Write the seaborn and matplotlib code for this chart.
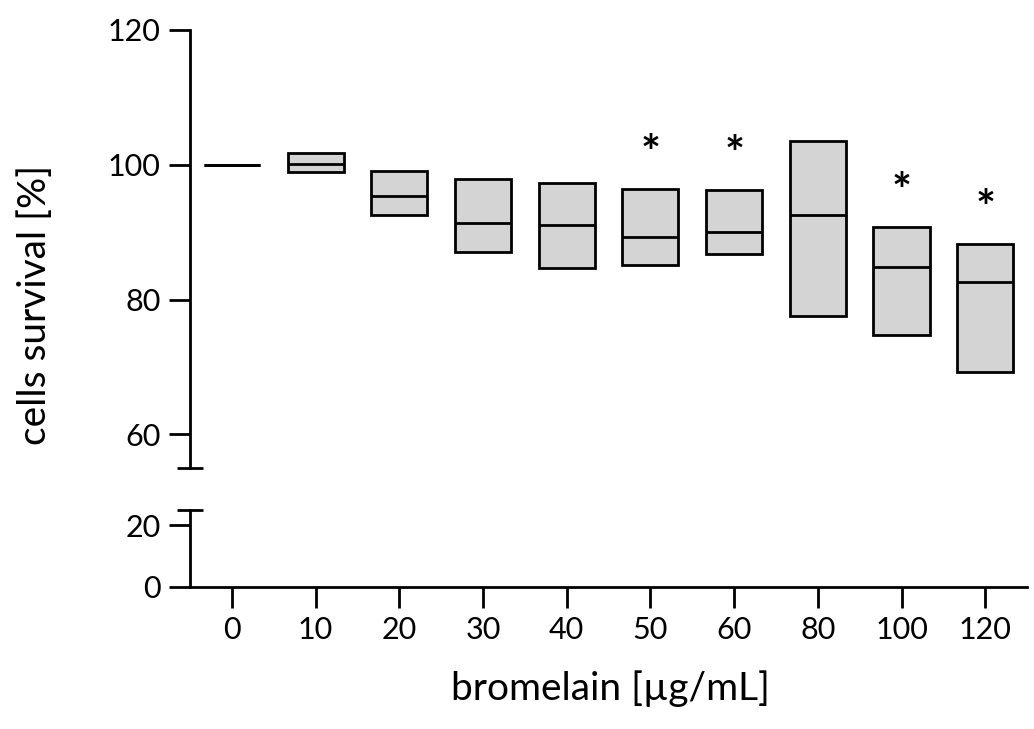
import numpy as np
import pandas as pd

import matplotlib
matplotlib.use("Agg")
import matplotlib.pyplot as plt
import seaborn as sns


# bromelain concentrations [ug/mL]
concentrations = ["0", "10", "20", "30", "40", "50", "60", "80", "100", "120"]
# cell survival [%]
survival_min = [100.0, 98.9, 92.5, 87.0, 84.7, 85.1, 86.7, 77.5, 74.7, 69.2]
survival_median = [100.0, 100.1, 95.4, 91.3, 91.0, 89.3, 90.0, 92.5, 84.8, 82.6]
survival_max = [100.0, 101.8, 99.1, 97.9, 97.3, 96.4, 96.3, 103.5, 90.8, 88.3]
significant = [False, False, False, False, False, True, True, False, True, True]


def build_frame():
    # five points per group so that Q1 = min, median = median, Q3 = max
    rows = []
    for c, lo, med, hi in zip(concentrations, survival_min, survival_median, survival_max):
        for v in (lo, lo, med, hi, hi):
            rows.append({"conc": c, "survival": v})
    return pd.DataFrame(rows)


def main():
    sns.set_style("white")
    plt.rcParams["font.family"] = ["Lato", "DejaVu Sans"]
    plt.rcParams["text.color"] = "black"
    plt.rcParams["xtick.color"] = "black"
    plt.rcParams["ytick.color"] = "black"
    plt.rcParams["axes.labelcolor"] = "black"

    df = build_frame()

    fig = plt.figure(figsize=(10.34, 7.29), dpi=100)
    left, width = 0.1838, 0.8095
    ax_top = fig.add_axes([left, 0.358, width, 0.601])
    ax_bot = fig.add_axes([left, 0.1948, width, 0.1056])

    sns.boxplot(data=df, x="conc", y="survival", order=concentrations,
                width=0.67, color="#d4d4d4", linecolor="black", linewidth=2,
                whis=0, showcaps=False, showfliers=False, saturation=1,
                ax=ax_top)

    # significance marks
    for i, (hi, sig) in enumerate(zip(survival_max, significant)):
        if sig:
            ax_top.text(i, hi + 5.0, "*", ha="center", va="center",
                        fontsize=34, fontweight="bold", color="black")

    ax_top.set_ylim(55, 120)
    ax_top.set_xlim(-0.5, 9.5)
    ax_top.set_yticks([60, 80, 100, 120])
    ax_top.set_xticks([])
    ax_top.set_xlabel("")
    ax_top.set_ylabel("")
    for s in ["top", "right", "bottom"]:
        ax_top.spines[s].set_visible(False)

    ax_bot.set_xlim(-0.5, 9.5)
    ax_bot.set_ylim(0, 25)
    ax_bot.set_yticks([0, 20])
    ax_bot.set_xticks(range(len(concentrations)))
    ax_bot.set_xticklabels(concentrations)
    for s in ["top", "right"]:
        ax_bot.spines[s].set_visible(False)

    for ax in (ax_top, ax_bot):
        ax.set_facecolor("none")
        for s in ["left", "bottom"]:
            ax.spines[s].set_linewidth(2)
            ax.spines[s].set_color("black")
        ax.tick_params(axis="both", direction="out", length=15, width=2,
                       color="black", labelcolor="black", labelsize=22, pad=6,
                       left=True, bottom=True)

    # axis break caps
    ax_top.plot([0], [0], marker="_", ms=19, mew=2, color="black",
                transform=ax_top.transAxes, clip_on=False)
    ax_bot.plot([0], [1], marker="_", ms=19, mew=2, color="black",
                transform=ax_bot.transAxes, clip_on=False)

    fig.text(0.034, 0.582, "cells survival [%]", rotation=90,
             ha="center", va="center", fontsize=28)
    fig.text(0.59, 0.056, "bromelain [\u00b5g/mL]", ha="center", va="center",
             fontsize=28)

    fig.savefig("out.png", dpi=100, facecolor="white")


if __name__ == '__main__':
    main()
